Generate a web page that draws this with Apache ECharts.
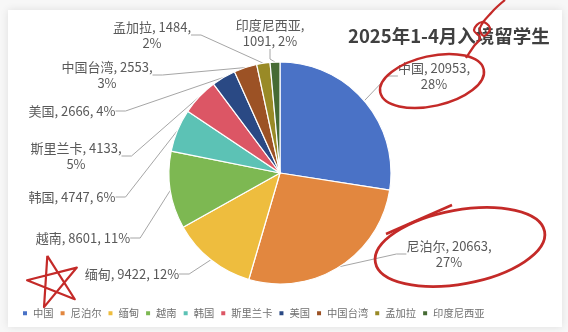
<!DOCTYPE html>
<html>
<head>
<meta charset="utf-8">
<script src="https://cdn.jsdelivr.net/npm/echarts@6/dist/echarts.min.js"></script>
<style>
html,body{margin:0;padding:0;background:#f7f7f7;}
#c{width:568px;height:332px;}
</style>
</head>
<body>
<div id="c"></div>
<script>
const categories = ['中国','尼泊尔','缅甸','越南','韩国','斯里兰卡','美国','中国台湾','孟加拉','印度尼西亚'];
const values = [20953, 20663, 9422, 8601, 4747, 4133, 2666, 2553, 1484, 1091];
const titleText = '2025年1-4月入境留学生';

const colors = ['#4a72c6','#e2873f','#eebd3e','#7db852','#5cc2b5','#dc5665','#2a4984','#9c5225','#998a26','#466b34'];
// label wrapping style: 0 single line, 1 break before percent, 2 break after name
const labelWrap = [1,1,0,0,0,1,0,1,1,2];
// label block centres (layout only)
const labelPos = [[434,76],[449,254],[132,274],[83,238],[72,197],[76,156],[72,111],[107,75],[152,35],[270,33]];

const chart = echarts.init(document.getElementById('c'), null, {renderer:'canvas'});

function starPoints(cx, cy, r, rot){
  const v = [];
  for (let i = 0; i < 5; i++) {
    const a = rot + i * 2 * Math.PI / 5;
    v.push([cx + r * Math.sin(a), cy - r * Math.cos(a)]);
  }
  return [v[0], v[2], v[4], v[1], v[3], v[0]];
}

const red = '#c42a28';

chart.setOption({
  backgroundColor: '#f7f7f7',
  animation: false,
  color: colors,
  title: {
    text: titleText,
    left: 343,
    top: 22,
    textStyle: {fontSize: 18.5, fontWeight: 'bold', color: '#404040', fontFamily: '"Noto Sans CJK SC", sans-serif'}
  },
  legend: {
    data: categories,
    left: 21,
    top: 308,
    padding: 0,
    icon: 'rect',
    itemWidth: 6,
    itemHeight: 6,
    itemGap: 5,
    textStyle: {fontSize: 10.3, color: '#707070', fontFamily: '"Noto Sans CJK SC", sans-serif'}
  },
  graphic: [
    {type:'rect', z:-10, shape:{x:8,y:10,width:554,height:317}, style:{fill:'#fff', shadowBlur:8, shadowColor:'rgba(0,0,0,0.10)'}},
    {type:'ellipse', z:100, x:432, y:81, rotation:0.22, shape:{cx:0,cy:0,rx:53,ry:25}, style:{fill:'none', stroke:red, lineWidth:2.5}},
    {type:'polyline', z:100, shape:{smooth:0.4, points:[[466,58],[474,46],[480,38],[474,30],[482,22],[490,28],[484,36],[480,28],[492,12],[505,0]]}, style:{fill:'none', stroke:red, lineWidth:2.2}},
    {type:'ellipse', z:100, x:460, y:247, rotation:0.18, shape:{cx:0,cy:0,rx:86,ry:37}, style:{fill:'none', stroke:red, lineWidth:2.8}},
    {type:'line', z:100, shape:{x1:386,y1:234,x2:452,y2:205}, style:{stroke:red, lineWidth:2.5}},
    {type:'polyline', z:100, shape:{points: starPoints(54, 282, 27, -0.25)}, style:{fill:'none', stroke:red, lineWidth:2.2, lineJoin:'round'}}
  ],
  series: [{
    type: 'pie',
    center: [280, 173],
    radius: [0, 111],
    startAngle: 90,
    clockwise: true,
    percentPrecision: 0,
    itemStyle: {borderColor: '#fff', borderWidth: 1.2},
    data: categories.map((n, i) => ({name: n, value: values[i]})),
    label: {
      show: true,
      color: '#595959',
      fontSize: 13,
      lineHeight: 16,
      fontFamily: '"Noto Sans CJK SC", sans-serif',
      formatter: function (p) {
        const w = labelWrap[p.dataIndex];
        if (w === 1) return p.name + ', ' + p.value + ',\n' + p.percent + '%';
        if (w === 2) return p.name + ',\n' + p.value + ', ' + p.percent + '%';
        return p.name + ', ' + p.value + ', ' + p.percent + '%';
      }
    },
    labelLine: {show: true, length: 15, length2: 10, lineStyle: {color: '#a6a6a6', width: 1}},
    labelLayout: function (params) {
      const p = labelPos[params.dataIndex];
      return {x: p[0], y: p[1], align: 'center', verticalAlign: 'middle'};
    },
    emphasis: {disabled: true}
  }]
});
</script>
</body>
</html>
